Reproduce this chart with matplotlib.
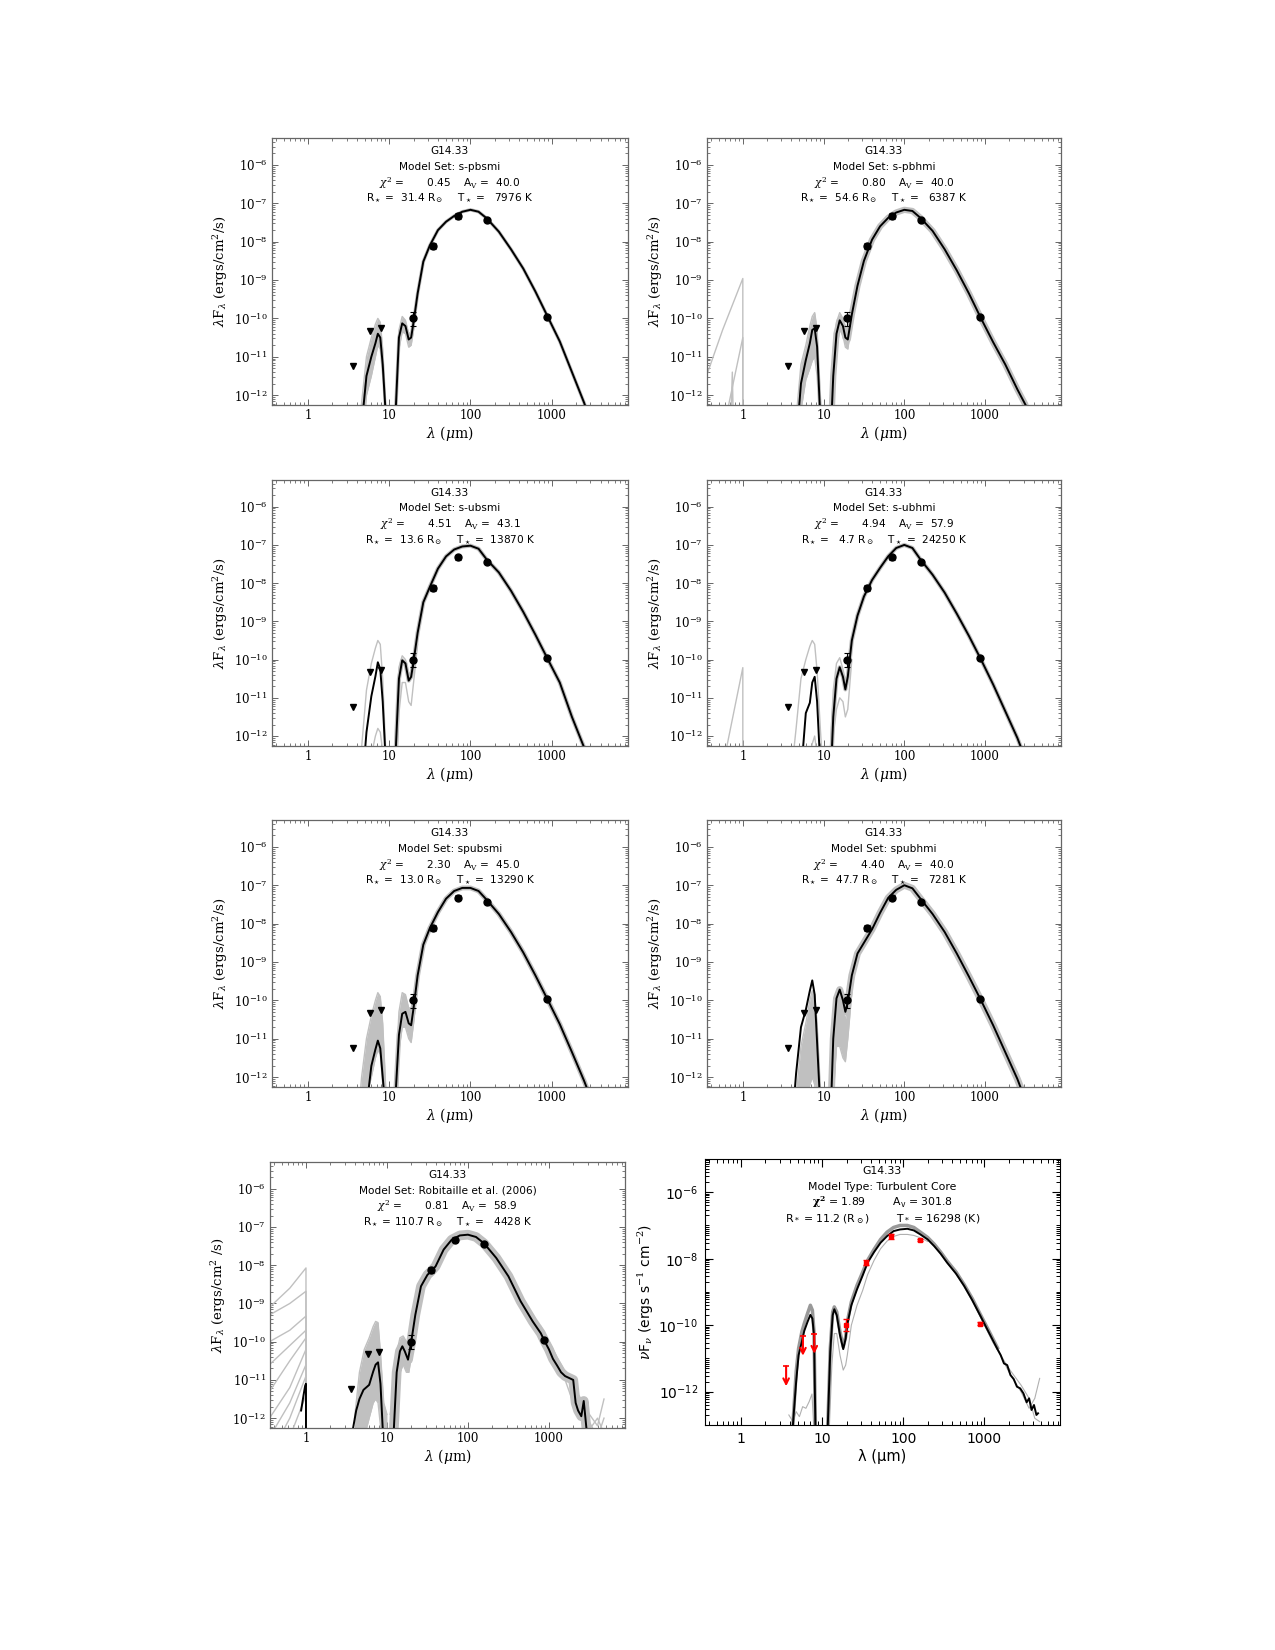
import numpy as np
import matplotlib
matplotlib.use("Agg")
import matplotlib.pyplot as plt
from matplotlib.ticker import LogLocator, NullFormatter

plt.rcParams['font.family'] = 'DejaVu Serif'
plt.rcParams['mathtext.fontset'] = 'dejavuserif'

# photometry of G14.33 (same in every panel)
det_lam = [19.7, 35.0, 70.0, 160.0, 870.0]
det_flux = [1.0e-10, 7.5e-9, 4.7e-8, 3.6e-8, 1.1e-10]
det_err_lo = [3.5e-11, 1.2e-9, 7e-9, 3e-9, 1.2e-11]
det_err_hi = [5.0e-11, 1.5e-9, 9e-9, 3e-9, 1.2e-11]
ul_lam = [3.6, 5.8, 8.0]
ul_flux = [5.8e-12, 4.8e-11, 5.5e-11]

# fit parameters
model_sets = ['s-pbsmi', 's-pbhmi', 's-ubsmi', 's-ubhmi', 'spubsmi', 'spubhmi',
              'Robitaille et al. (2006)']
chi2 = ['0.45', '0.80', '4.51', '4.94', '2.30', '4.40', '0.81']
av = ['40.0', '40.0', '43.1', '57.9', '45.0', '40.0', '58.9']
rstar = ['31.4', '54.6', '13.6', '4.7', '13.0', '47.7', '110.7']
tstar = ['7976', '6387', '13870', '24250', '13290', '7281', '4428']

# model SEDs, log10(lambda/um) and log10(lambda F_lambda)
grid_a = [0.60, 0.66, 0.72, 0.78, 0.83, 0.86, 0.89, 0.92, 0.96, 1.00]
grid_b = [1.04, 1.08, 1.12, 1.16, 1.20, 1.24, 1.27, 1.30, 1.35, 1.42, 1.50, 1.60,
          1.70, 1.80, 1.90, 2.00, 2.10, 2.20, 2.35, 2.50, 2.65, 2.80, 2.95, 3.10,
          3.25, 3.40, 3.50]

black_a = [
    [-13.5, -12.8, -11.5, -11.0, -10.65, -10.4, -10.5, -11.2, -12.6, -13.5],
    [-13.5, -13.3, -11.7, -11.09, -10.65, -10.3, -10.26, -10.74, -12.6, -13.5],
    [-13.5, -13.5, -11.9, -10.96, -10.44, -10.07, -10.25, -11.1, -12.8, -13.5],
    [-13.5, -13.5, -13.0, -11.4, -11.13, -10.6, -10.45, -11.1, -12.8, -13.5],
    [-13.5, -13.5, -12.8, -11.71, -11.28, -11.05, -11.25, -12.0, -13.0, -13.5],
    [-13.5, -11.9, -10.7, -10.25, -9.75, -9.48, -9.85, -11.1, -12.8, -13.5],
]
black_b = [
    [-13.5, -12.4, -10.5, -10.13, -10.2, -10.55, -10.5, -10.1, -9.35, -8.52, -8.1, -7.7,
     -7.48, -7.33, -7.22, -7.17, -7.22, -7.39, -7.74, -8.2, -8.7, -9.3, -9.95, -10.6,
     -11.4, -12.2, -12.8],
    [-13.5, -13.5, -11.5, -10.4, -10.05, -10.2, -10.5, -10.55, -9.9, -9.15, -8.5, -7.95,
     -7.6, -7.38, -7.24, -7.17, -7.2, -7.38, -7.72, -8.2, -8.75, -9.35, -10.0, -10.62,
     -11.2, -11.85, -12.25],
    [-13.5, -12.4, -10.5, -10.02, -10.1, -10.55, -10.45, -10.05, -9.3, -8.5, -8.1, -7.62,
     -7.3, -7.12, -7.04, -7.02, -7.1, -7.38, -7.72, -8.2, -8.75, -9.35, -9.98, -10.6,
     -11.5, -12.3, -12.9],
    [-13.5, -13.5, -11.5, -10.5, -10.2, -10.45, -10.78, -10.45, -9.5, -8.85, -8.35, -7.92,
     -7.6, -7.3, -7.08, -7.0, -7.08, -7.38, -7.78, -8.25, -8.8, -9.38, -10.0, -10.65,
     -11.35, -12.05, -12.6],
    [-13.5, -12.4, -10.9, -10.35, -10.3, -10.6, -10.65, -10.2, -9.35, -8.55, -8.12, -7.7,
     -7.35, -7.15, -7.07, -7.07, -7.15, -7.38, -7.75, -8.22, -8.75, -9.35, -9.98, -10.62,
     -11.35, -12.1, -12.65],
    [-13.5, -13.5, -11.0, -9.95, -9.72, -10.0, -10.3, -10.05, -9.35, -8.78, -8.5, -8.15,
     -7.72, -7.33, -7.12, -7.0, -7.08, -7.35, -7.75, -8.22, -8.78, -9.38, -10.0, -10.65,
     -11.35, -12.05, -12.6],
]

# spread of the other good fits (grey), mid-IR part
gray_a_hi = [
    [-13.5, -12.2, -11.0, -10.5, -10.15, -10.0, -10.1, -10.8, -12.3, -13.5],
    [-13.5, -12.6, -11.2, -10.7, -10.2, -9.95, -9.85, -10.3, -12.0, -13.5],
    [-13.5, -12.3, -10.8, -10.1, -9.7, -9.5, -9.6, -10.5, -12.5, -13.5],
    [-13.0, -11.8, -10.5, -10.0, -9.65, -9.5, -9.6, -10.3, -11.8, -13.2],
    [-13.5, -12.0, -11.0, -10.4, -10.0, -9.8, -9.9, -10.6, -12.4, -13.5],
    [-13.5, -12.5, -11.2, -10.6, -10.0, -9.75, -9.85, -10.6, -12.3, -13.5],
    [-12.0, -10.8, -10.2, -9.9, -9.6, -9.47, -9.5, -10.3, -11.6, -11.9],
]
gray_a_lo = [
    [-13.5, -13.5, -12.0, -11.5, -11.0, -10.7, -10.8, -11.5, -13.0, -13.5],
    [-13.5, -13.5, -12.4, -11.6, -11.3, -11.1, -11.0, -11.5, -13.0, -13.5],
    [-13.5, -13.5, -13.0, -12.5, -12.0, -11.8, -11.9, -12.4, -13.5, -13.5],
    [-13.5, -13.5, -13.5, -12.8, -12.5, -12.2, -12.0, -12.5, -13.5, -13.5],
    [-13.5, -13.5, -12.5, -12.0, -11.5, -11.3, -11.4, -12.2, -13.5, -13.5],
    [-13.5, -13.5, -13.5, -12.6, -12.2, -12.0, -12.2, -12.8, -13.5, -13.5],
    [-13.5, -13.0, -12.5, -12.0, -11.6, -11.5, -11.6, -12.2, -13.5, -13.5],
]
gray_b_hi = [
    [-13.5, -12.0, -10.3, -9.95, -10.05, -10.4, -10.35, -10.0, -9.3],
    [-13.5, -12.5, -10.8, -10.1, -9.85, -10.0, -10.3, -10.35, -9.7],
    [-13.5, -12.0, -10.2, -9.9, -10.0, -10.4, -10.3, -9.95, -9.25],
    [-13.5, -12.5, -10.8, -10.1, -9.95, -10.25, -10.55, -10.3, -9.5],
    [-13.5, -12.0, -10.3, -9.8, -9.85, -10.2, -10.2, -9.9, -9.2],
    [-13.5, -13.0, -10.5, -9.9, -9.9, -10.3, -10.5, -10.2, -9.3],
    [-11.9, -11.4, -10.3, -9.9, -9.85, -10.0, -10.15, -9.9, -9.2],
]
gray_b_lo = [
    [-13.5, -12.8, -10.8, -10.35, -10.4, -10.75, -10.7, -10.3, -9.45],
    [-13.5, -13.5, -12.2, -10.8, -10.3, -10.45, -10.75, -10.8, -10.1],
    [-13.5, -13.5, -11.4, -10.6, -10.6, -11.1, -11.2, -10.6, -9.6],
    [-13.5, -13.5, -12.0, -11.3, -11.0, -11.1, -11.5, -11.3, -10.0],
    [-13.5, -13.5, -11.3, -10.7, -10.7, -11.0, -11.1, -10.6, -9.6],
    [-13.5, -13.5, -12.5, -11.2, -11.2, -11.5, -11.6, -11.0, -9.8],
    [-13.5, -13.5, -11.5, -10.8, -10.6, -10.8, -10.8, -10.4, -9.6],
]
gray_fill = [True, True, False, False, True, True, True]
band_width = [2.5, 4.5, 3, 3, 3.5, 5, 7]

# grey models that leak out near 1 um
p2_spike_x = [[-0.45, -0.25, 0.0, 0.0], [-0.3, -0.1, 0.0, 0.0], [-0.16, -0.13, -0.11]]
p2_spike_y = [[-11.5, -10.3, -8.96, -13.5], [-13.5, -11.5, -10.5, -13.5],
              [-13.5, -11.4, -13.5]]
p4_spike_x = [-0.21, 0.0, 0.0]
p4_spike_y = [-12.4, -10.21, -13.5]

# Robitaille et al. (2006) panel
p7_left_x = [-0.45, -0.2, 0.0, 0.0]
p7_left_y = [
    [-9.1, -8.6, -8.07, -13.5], [-9.3, -9.0, -8.68, -13.5], [-10.0, -9.7, -9.33, -13.5],
    [-10.6, -10.1, -9.7, -13.5], [-11.3, -10.5, -9.9, -13.5], [-12.0, -11.2, -10.2, -13.5],
    [-12.5, -11.6, -10.6, -13.5], [-13.0, -12.0, -10.9, -13.5], [-13.5, -12.5, -11.4, -13.5],
]
p7_stub_x = [-0.06, -0.03, -0.01, 0.0, 0.0]
p7_stub_y = [-11.8, -11.4, -11.15, -11.1, -13.5]
p7_x = [0.57, 0.62, 0.66, 0.71, 0.78, 0.83, 0.86, 0.89, 0.92, 0.96, np.nan,
        1.08, 1.12, 1.16, 1.19, 1.22, 1.26, 1.30, 1.35, 1.42, 1.50, 1.544, 1.6, 1.7,
        1.8, 1.9, 2.0, 2.1, 2.2, 2.35, 2.5, 2.65, 2.8, 2.9, 2.95, 3.0, 3.05, 3.1, 3.15,
        3.2, 3.25, 3.3, 3.33, 3.36, 3.4, 3.43, 3.46, 3.5]
p7_y = [-12.4, -11.8, -11.5, -11.26, -11.13, -10.78, -10.6, -10.54, -11.1, -12.8, np.nan,
        -12.5, -10.8, -10.25, -10.12, -10.25, -10.47, -10.0, -9.3, -8.55, -8.25, -8.16,
        -8.03, -7.59, -7.33, -7.22, -7.2, -7.26, -7.43, -7.81, -8.29, -8.94, -9.47,
        -9.78, -10.0, -10.2, -10.45, -10.62, -10.8, -10.9, -10.95, -11.0, -11.6, -11.8,
        -11.95, -11.55, -12.2, -13.0]
p7_tail_x = [2.9, 3.0, 3.1, 3.2, 3.3, 3.4, 3.5, 3.6, 3.68]
p7_tail_y = [
    [-9.6, -10.0, -10.4, -10.8, -11.2, -11.5, -11.9, -12.2, -11.5],
    [-9.9, -10.3, -10.8, -11.0, -11.6, -12.0, -12.3, -12.0, -12.4],
    [-9.7, -10.1, -10.5, -10.9, -11.0, -11.7, -12.1, -12.5, -12.0],
]

# turbulent core panel
p8_a_x = [0.64, 0.68, 0.71, 0.75, 0.78, 0.82, 0.855, 0.88, 0.90, 0.917]
p8_a_y = [-13.0, -11.7, -10.9, -10.5, -10.17, -9.9, -9.69, -9.8, -10.3, -13.0]
p8_a_gray = [-13.0, -11.4, -10.7, -10.2, -9.95, -9.65, -9.4, -9.55, -10.2, -13.0]
p8_b_x = [1.07, 1.10, 1.13, 1.15, 1.18, 1.22, 1.26, 1.29, 1.31, 1.36, 1.43, 1.50, 1.56,
          1.64, 1.72, 1.80, 1.88, 1.96, 2.05, 2.13, 2.21, 2.30, 2.38, 2.46, 2.54, 2.65,
          2.75, 2.85, 2.95, 3.05, 3.16]
p8_b_y = [-13.0, -10.8, -9.7, -9.52, -9.7, -10.3, -10.72, -10.4, -9.97, -9.4, -8.92, -8.5,
          -8.12, -7.8, -7.52, -7.32, -7.17, -7.12, -7.1, -7.15, -7.27, -7.42, -7.62, -7.85,
          -8.12, -8.45, -8.82, -9.25, -9.72, -10.2, -10.72]
p8_b_gray = [-13.0, -10.7, -9.6, -9.45, -9.6, -10.2, -10.65, -10.35, -9.9, -9.3, -8.8, -8.4,
             -8.05, -7.72, -7.42, -7.2, -7.06, -7.0, -7.0, -7.06, -7.2, -7.36, -7.56, -7.8,
             -8.07, -8.4, -8.78, -9.2, -9.68, -10.15, -10.68]
p8_tail_x = [3.2, 3.24, 3.28, 3.32, 3.36, 3.4, 3.44, 3.48, 3.52, 3.55, 3.58, 3.61, 3.64, 3.66]
p8_tail_y = [-10.9, -11.15, -11.2, -11.5, -11.62, -11.85, -11.9, -12.05, -12.32, -12.2,
             -12.55, -12.4, -12.7, -12.65]
p8_gtail_x = [2.9, 3.1, 3.3, 3.45, 3.55, 3.62, 3.68]
p8_gtail_y = [[-9.5, -10.45, -11.4, -12.0, -12.5, -12.2, -11.6],
              [-9.5, -10.5, -11.3, -11.8, -12.2, -12.8, -12.9]]
p8_low_a_x = [0.59, 0.64, 0.68, 0.72, 0.76, 0.80, 0.84, 0.875, 0.90]
p8_low_a_y = [-12.7, -12.9, -12.6, -12.75, -12.45, -12.5, -12.3, -12.07, -13.2]
p8_low_b_x = [1.09, 1.12, 1.15, 1.18, 1.22, 1.26, 1.29, 1.31, 1.36, 1.43, 1.50, 1.56,
              1.64, 1.72, 1.80, 1.88, 1.96, 2.05, 2.13, 2.21, 2.30]
p8_low_b_y = [-13.0, -11.2, -10.25, -10.25, -10.9, -11.35, -11.2, -10.9, -10.0, -9.4,
              -8.95, -8.48, -8.05, -7.7, -7.47, -7.33, -7.27, -7.27, -7.3, -7.37, -7.48]


def L(v):
    return 10.0 ** np.asarray(v, dtype=float)


positions = [
    [0.2133, 0.7545, 0.2792, 0.1618], [0.5545, 0.7545, 0.2776, 0.1618],
    [0.2133, 0.5479, 0.2792, 0.1612], [0.5545, 0.5479, 0.2776, 0.1612],
    [0.2133, 0.3412, 0.2792, 0.1618], [0.5545, 0.3412, 0.2776, 0.1618],
    [0.2118, 0.1345, 0.2784, 0.1612], [0.5529, 0.1364, 0.2784, 0.1612],
]

GREY = '#c0c0c0'
fig = plt.figure(figsize=(12.75, 16.5), dpi=100)


def sed_axes(pos):
    ax = fig.add_axes(pos)
    ax.set_xscale('log')
    ax.set_yscale('log')
    ax.set_xlim(0.36, 8700)
    ax.set_ylim(5.5e-13, 5e-6)
    ax.set_xticks([1, 10, 100, 1000], labels=['1', '10', '100', '1000'])
    ax.xaxis.set_minor_locator(LogLocator(base=10, subs=np.arange(2, 10), numticks=20))
    ax.xaxis.set_minor_formatter(NullFormatter())
    ax.yaxis.set_major_locator(LogLocator(base=10, numticks=20))
    ax.yaxis.set_minor_locator(LogLocator(base=10, subs=np.arange(2, 10), numticks=20))
    ax.yaxis.set_minor_formatter(NullFormatter())
    ax.tick_params(which='both', direction='in', top=True, right=True,
                   color='#666666', labelsize=8.5, pad=3)
    ax.tick_params(which='major', length=4, width=0.7)
    ax.tick_params(which='minor', length=2, width=0.6)
    for s in ax.spines.values():
        s.set_color('#666666')
        s.set_linewidth(0.9)
    ax.set_xlabel(r'$\lambda$ ($\mu$m)', fontsize=10, labelpad=1)
    ax.set_ylabel(r'$\lambda$F$_\lambda$ (ergs/cm$^2$/s)', fontsize=9.5, labelpad=3)
    return ax


def photometry(ax):
    ax.errorbar(det_lam, det_flux, yerr=[det_err_lo, det_err_hi], fmt='o', color='black',
                ms=5, capsize=2.5, elinewidth=0.8, capthick=0.8, zorder=6)
    ax.plot(ul_lam, ul_flux, 'v', color='black', ms=5, zorder=6)


def labels(ax, i):
    lines = ['G14.33',
             'Model Set: ' + model_sets[i],
             r'$\chi^2$ =       ' + chi2[i] + r'    A$_{\rm V}$ =  ' + av[i],
             r'R$_\star$ = ' + rstar[i].rjust(5) + r' R$_\odot$    T$_\star$ = '
             + tstar[i].rjust(6) + ' K']
    for y, s in zip([0.952, 0.893, 0.833, 0.774], lines):
        ax.text(0.5, y, s, transform=ax.transAxes, ha='center', va='center',
                fontsize=7.6, family='DejaVu Sans')


def grey_spread(ax, i):
    xa, xb = L(grid_a), L(grid_b[:9])
    if gray_fill[i]:
        ax.fill_between(xa, L(gray_a_lo[i]), L(gray_a_hi[i]), color=GREY, lw=0, zorder=2)
        ax.fill_between(xb, L(gray_b_lo[i]), L(gray_b_hi[i]), color=GREY, lw=0, zorder=2)
    for arr_a, arr_b in [(gray_a_hi[i], gray_b_hi[i]), (gray_a_lo[i], gray_b_lo[i])]:
        ax.plot(xa, L(arr_a), color=GREY, lw=1.0, zorder=2)
        ax.plot(xb, L(arr_b), color=GREY, lw=1.0, zorder=2)


# panels 1-6
for i in range(6):
    ax = sed_axes(positions[i])
    grey_spread(ax, i)
    ax.plot(L(grid_b), L(black_b[i]), color=GREY, lw=band_width[i],
            solid_capstyle='round', zorder=2)
    if i == 1:
        for sx, sy in zip(p2_spike_x, p2_spike_y):
            ax.plot(L(sx), L(sy), color=GREY, lw=1.0, zorder=2)
    if i == 3:
        ax.plot(L(p4_spike_x), L(p4_spike_y), color=GREY, lw=1.0, zorder=2)
    ax.plot(L(grid_a), L(black_a[i]), color='black', lw=1.4, zorder=4)
    ax.plot(L(grid_b), L(black_b[i]), color='black', lw=1.4, zorder=4)
    photometry(ax)
    labels(ax, i)

# panel 7: Robitaille et al. (2006)
ax = sed_axes(positions[6])
ax.set_ylabel(r'$\lambda$F$_\lambda$ (ergs/cm$^2$ /s)', fontsize=9.5, labelpad=3)
grey_spread(ax, 6)
for ly in p7_left_y:
    ax.plot(L(p7_left_x), L(ly), color=GREY, lw=1.0, zorder=2)
for ty in p7_tail_y:
    ax.plot(L(p7_tail_x), L(ty), color=GREY, lw=1.0, zorder=2)
ax.plot(L(p7_x[11:]), L(p7_y[11:]), color=GREY, lw=band_width[6], zorder=2)
ax.plot(L(p7_x), L(p7_y), color='black', lw=1.4, zorder=4)
ax.plot(L(p7_stub_x), L(p7_stub_y), color='black', lw=1.4, zorder=4)
photometry(ax)
labels(ax, 6)

# panel 8: turbulent core model
ax = fig.add_axes(positions[7])
ax.set_xscale('log')
ax.set_yscale('log')
ax.set_xlim(0.36, 8500)
ax.set_ylim(1e-13, 1e-5)
ax.plot(L(p8_low_a_x), L(p8_low_a_y), color='#b0b0b0', lw=0.8, zorder=2)
ax.plot(L(p8_low_b_x), L(p8_low_b_y), color='#b0b0b0', lw=0.8, zorder=2)
for gy in p8_gtail_y:
    ax.plot(L(p8_gtail_x), L(gy), color='#b0b0b0', lw=0.8, zorder=2)
ax.plot(L(p8_a_x), L(p8_a_gray), color='#999999', lw=2.5, zorder=3)
ax.plot(L(p8_b_x), L(p8_b_gray), color='#999999', lw=2.5, zorder=3)
ax.plot(L(p8_a_x), L(p8_a_y), color='black', lw=1.4, zorder=4)
ax.plot(L(p8_b_x + p8_tail_x), L(p8_b_y + p8_tail_y), color='black', lw=1.4, zorder=4)
ax.errorbar(det_lam, det_flux, yerr=[det_err_lo, det_err_hi], fmt='s', color='red',
            ms=3.5, capsize=2, elinewidth=0.8, zorder=6)
for lx, ly in zip(ul_lam, ul_flux):
    ax.plot([lx], [ly], marker='_', color='red', ms=5, mew=1.2, zorder=6)
    ax.annotate('', xy=(lx, ly * 10 ** -0.6), xytext=(lx, ly),
                arrowprops=dict(arrowstyle='->', color='red', lw=1.5,
                                mutation_scale=10, shrinkA=0, shrinkB=0), zorder=6)
ax.set_xticks([1, 10, 100, 1000], labels=['1', '10', '100', '1000'])
ax.xaxis.set_minor_locator(LogLocator(base=10, subs=np.arange(2, 10), numticks=20))
ax.xaxis.set_minor_formatter(NullFormatter())
ax.set_yticks([1e-12, 1e-10, 1e-8, 1e-6],
              labels=[r'$\mathsf{10^{-12}}$', r'$\mathsf{10^{-10}}$',
                      r'$\mathsf{10^{-8}}$', r'$\mathsf{10^{-6}}$'])
ax.yaxis.set_minor_locator(LogLocator(base=10, subs=np.arange(1, 10), numticks=20))
ax.yaxis.set_minor_formatter(NullFormatter())
ax.tick_params(which='both', direction='in', top=True, right=True, labelsize=10, pad=5)
ax.tick_params(which='major', length=6, width=0.8)
ax.tick_params(which='minor', length=3, width=0.7)
for t in ax.get_xticklabels():
    t.set_family('DejaVu Sans')
ax.set_xlabel('λ (μm)', fontsize=10.5, family='DejaVu Sans', labelpad=2)
ax.set_ylabel(r'$\nu$F$_\nu$ (ergs s$^{-1}$ cm$^{-2}$)', fontsize=10,
              family='DejaVu Sans', labelpad=2)
p8_lines = ['G14.33', 'Model Type: Turbulent Core',
            r'$\mathbf{\chi^2}$ = 1.89        A$_\mathsf{v}$ = 301.8',
            r'R$_*$ = 11.2 (R$_\odot$)        T$_*$ = 16298 (K)']
for y, s in zip([0.956, 0.896, 0.836, 0.773], p8_lines):
    ax.text(0.5, y, s, transform=ax.transAxes, ha='center', va='center',
            fontsize=7.8, family='DejaVu Sans')

fig.savefig('out.png', dpi=100)
